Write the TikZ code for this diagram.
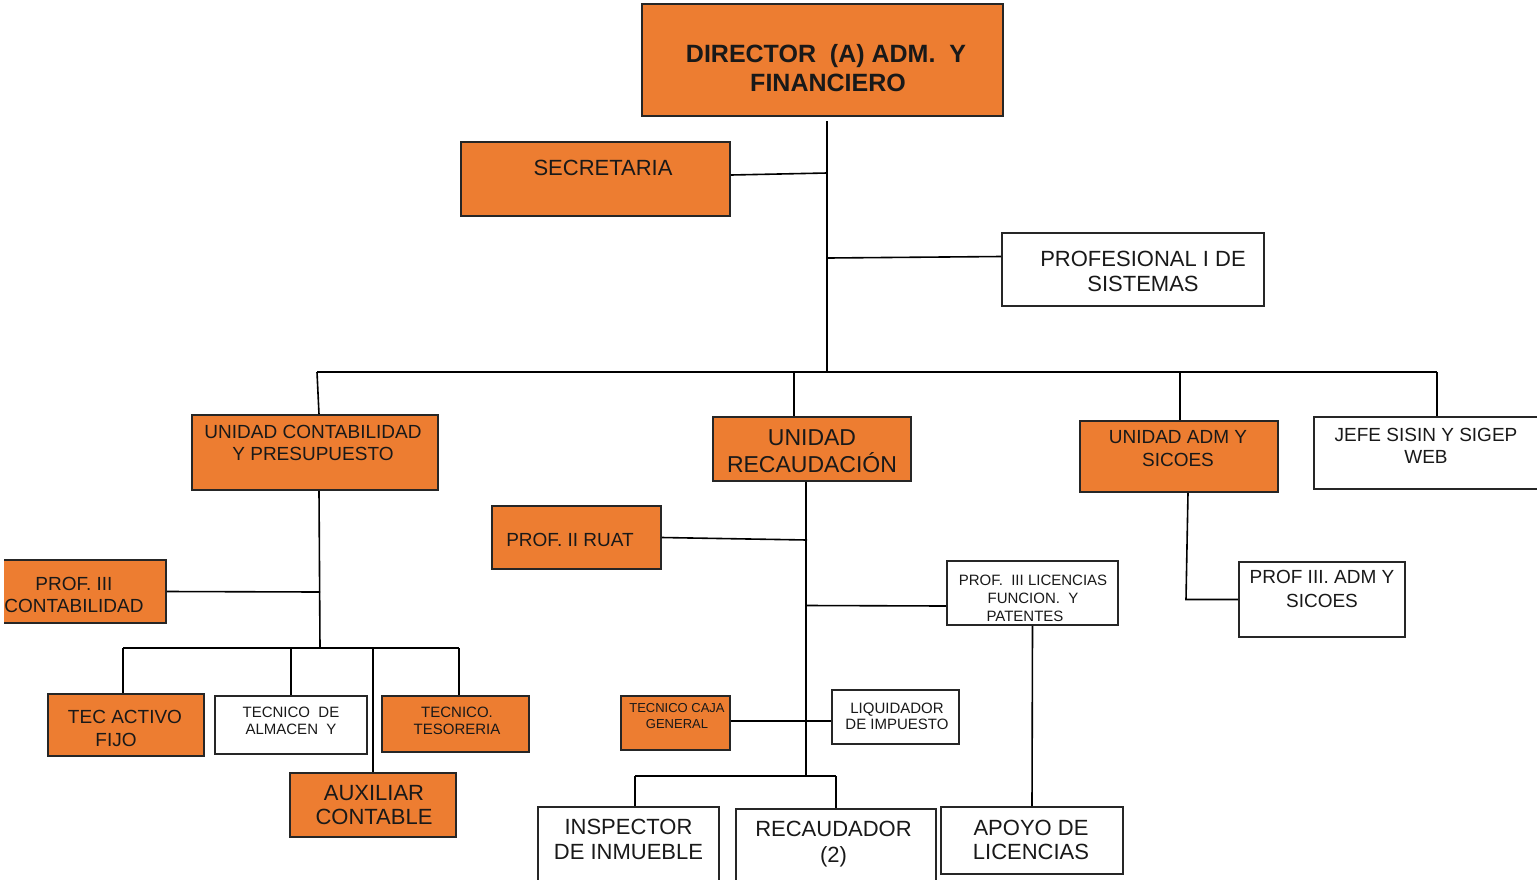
\documentclass[tikz,border=0pt]{standalone}
\usepackage{fontspec}
\setmainfont{Liberation Sans}
\definecolor{org}{HTML}{ED7D31}
\newcommand{\fz}[2]{\fontsize{#1}{#2}\selectfont}
\tikzset{
  obox/.style={draw=black!85, fill=org, line width=1.6pt, inner sep=0pt},
  wbox/.style={draw=black!85, fill=white, line width=1.6pt, inner sep=0pt},
  txt/.style={inner sep=0pt, align=center, text=black!90},
  conn/.style={draw=black, line width=1.6pt},
}
\begin{document}
\begin{tikzpicture}[x=1pt,y=-1pt]
\useasboundingbox (0,0) rectangle (1537,879);
\fill[white] (0,0) rectangle (1537,879);

% ---------- boxes ----------
\node[obox, minimum width=361pt, minimum height=112pt] (dir) at (822.5,60) {};
\node[txt, font=\fz{25}{29}\bfseries] (dirt) at (826,68) {DIRECTOR\ \ (A) ADM.\ \ Y\\FINANCIERO\hspace*{-4pt}};

\node[obox, minimum width=269pt, minimum height=74pt] (sec) at (595.5,179) {};
\node[txt, font=\fz{22}{25}] (sect) at (603,168) {SECRETARIA};

\node[wbox, minimum width=262pt, minimum height=73pt] (prof1) at (1133,269.5) {};
\node[txt, font=\fz{22}{25}] (prof1t) at (1143,271) {PROFESIONAL I DE\\SISTEMAS};

\node[obox, minimum width=246pt, minimum height=75pt] (ucp) at (315,452.5) {};
\node[txt, font=\fz{19}{22.5}] (ucpt) at (313,443) {UNIDAD CONTABILIDAD\\Y PRESUPUESTO};

\node[obox, minimum width=198pt, minimum height=64pt] (urec) at (812,449) {};
\node[txt, font=\fz{23}{27}] (urect) at (812,451) {UNIDAD\\RECAUDACIÓN};

\node[obox, minimum width=198pt, minimum height=71pt] (uadm) at (1179,456.5) {};
\node[txt, font=\fz{19}{23}] (uadmt) at (1178,448.5) {UNIDAD ADM Y\\SICOES};

\node[wbox, minimum width=246pt, minimum height=72pt] (jefe) at (1437,453) {};
\node[txt, font=\fz{19}{22.5}] (jefet) at (1426,446) {JEFE SISIN Y SIGEP\\WEB};

\node[wbox, minimum width=166pt, minimum height=75pt] (p3adm) at (1322,599.5) {};
\node[txt, font=\fz{19}{23.5}] (p3admt) at (1322,589) {PROF III. ADM Y\\SICOES};

\begin{scope}
\clip (4,0) rectangle (1537,879);
\node[obox, minimum width=172pt, minimum height=63pt] (p3con) at (80,591.5) {};
\node[txt, font=\fz{19}{22.5}] (p3cont) at (74,595) {PROF. III\\CONTABILIDAD};
\end{scope}

\node[obox, minimum width=156pt, minimum height=62pt] (tecaf) at (126,725) {};
\node[txt, font=\fz{19}{23}] (tecaft) at (120.5,728.5) {\hspace*{9pt}TEC ACTIVO\\FIJO\hspace*{9pt}};

\node[wbox, minimum width=152pt, minimum height=58pt] (tecalm) at (291,725) {};
\node[txt, font=\fz{15}{16.5}] (tecalmt) at (291,721) {TECNICO\ \ DE\\ALMACEN\ \ Y};

\node[obox, minimum width=147pt, minimum height=56pt] (tecteso) at (455.5,724) {};
\node[txt, font=\fz{15}{17}] (tectesot) at (457,721) {TECNICO.\\TESORERIA};

\node[obox, minimum width=166pt, minimum height=64pt] (aux) at (373,805) {};
\node[txt, font=\fz{22}{24}] (auxt) at (374,805.5) {AUXILIAR\\CONTABLE};

\node[obox, minimum width=169pt, minimum height=63pt] (ruat) at (576.5,537.5) {};
\node[txt, font=\fz{19}{22}] (ruatt) at (570,540) {PROF. II RUAT};

\node[wbox, minimum width=171pt, minimum height=64pt] (p3lic) at (1032.5,593) {};
\node[txt, font=\fz{15}{18}] (p3lict) at (1033,598) {PROF.\ \ III LICENCIAS\\FUNCION.\ \ Y\\PATENTES\hspace*{16pt}};

\node[obox, minimum width=109pt, minimum height=54pt] (caja) at (675.5,723) {};
\node[txt, font=\fz{13}{15.5}] (cajat) at (677,716) {TECNICO CAJA\\GENERAL};

\node[wbox, minimum width=127pt, minimum height=54pt] (liq) at (895.5,717) {};
\node[txt, font=\fz{15}{16}] (liqt) at (897,716.5) {LIQUIDADOR\\DE IMPUESTO};

\node[wbox, minimum width=181pt, minimum height=93pt] (insp) at (628.5,853.5) {};
\node[txt, font=\fz{22}{25}] (inspt) at (628.5,839.5) {INSPECTOR\\DE INMUEBLE};

\node[wbox, minimum width=200pt, minimum height=91pt] (recau) at (836,854.5) {};
\node[txt, font=\fz{22}{26}] (recaut) at (833.5,844) {RECAUDADOR\\(2)};

\node[wbox, minimum width=182pt, minimum height=67pt] (apoyo) at (1032,840.5) {};
\node[txt, font=\fz{22}{24.5}] (apoyot) at (1031,840) {APOYO DE\\LICENCIAS};

% ---------- junction coordinates ----------
\coordinate (trkA) at (827,121);
\coordinate (trkB) at (827,372);
\coordinate (jsec) at (827,173);
\coordinate (jprof) at (828,258);
\coordinate (busL) at (317,372);
\coordinate (busR) at (1437,372);
\coordinate (brec) at (794,372);
\coordinate (badm) at (1180,372);
\coordinate (cjB) at (320,648);
\coordinate (cjP) at (320,592);
\coordinate (c2L) at (123,648);
\coordinate (c2R) at (459,648);
\coordinate (c2A) at (291,647);
\coordinate (c2X) at (373,648);
\coordinate (rB) at (806,776);
\coordinate (rRuat) at (807,540);
\coordinate (rLic) at (807,605.5);
\coordinate (rCaja) at (806,721);
\coordinate (r3L) at (635,776);
\coordinate (r3R) at (836,776);
\coordinate (aBend) at (1186,599.5);

% ---------- connectors ----------
\draw[conn] (trkA) -- (trkB);
\draw[conn] ([yshift=4pt]sec.east) -- (jsec);
\draw[conn] (jprof) -- ([yshift=13pt]prof1.west);
\draw[conn] (busL) -- (busR);
\draw[conn] (busL) -- ([xshift=4pt]ucp.north);
\draw[conn] (brec) -- ([xshift=-18pt]urec.north);
\draw[conn] (badm) -- ([xshift=1pt]uadm.north);
\draw[conn] (busR) -- (jefe.north);

\draw[conn] ([xshift=4pt]ucp.south) -- (cjB);
\draw[conn] (p3con.east) -- (cjP);
\draw[conn] (c2L) -- (c2R);
\draw[conn] (c2L) -- ([xshift=-3pt]tecaf.north);
\draw[conn] (c2A) -- (tecalm.north);
\draw[conn] (c2X) -- (aux.north);
\draw[conn] (c2R) -- ([xshift=3.5pt]tecteso.north);

\draw[conn] ([xshift=-6pt]urec.south) -- (rB);
\draw[conn] (ruat.east) -- (rRuat);
\draw[conn] (rLic) -- ([yshift=-13pt]p3lic.west);
\draw[conn] ([yshift=2pt]caja.east) -- (rCaja) -- ([yshift=-4pt]liq.west);
\draw[conn] (r3L) -- (r3R);
\draw[conn] (r3L) -- ([xshift=6.5pt]insp.north);
\draw[conn] (r3R) -- (recau.north);
\draw[conn] (p3lic.south) -- (apoyo.north);
\draw[conn] ([xshift=9pt]uadm.south) -- (aBend) -- (p3adm.west);
\end{tikzpicture}
\end{document}
